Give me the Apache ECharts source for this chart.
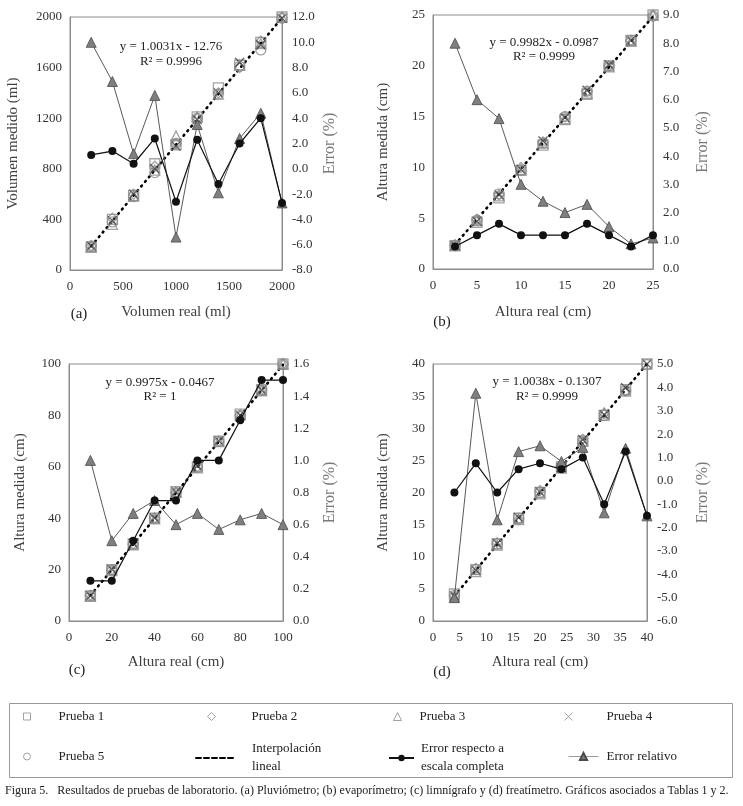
<!DOCTYPE html>
<html>
<head>
<meta charset="utf-8">
<script src="https://cdn.jsdelivr.net/npm/echarts@6/dist/echarts.min.js"></script>
<style>
html,body{margin:0;padding:0;background:#fff;}
#chart{width:743px;height:806px;}
</style>
</head>
<body>
<div id="chart"></div>
<script>
// ---------- DATA ----------
// (a) Pluviómetro
const aX = [200, 400, 600, 800, 1000, 1200, 1400, 1600, 1800, 2000];
const aP1 = [180, 400, 590, 840, 990, 1210, 1440, 1620, 1800, 2000];
const aP2 = [190, 410, 600, 820, 1000, 1200, 1400, 1600, 1810, 2010];
const aP3 = [185, 360, 585, 790, 1060, 1210, 1390, 1620, 1790, 2000];
const aP4 = [190, 390, 600, 800, 980, 1190, 1400, 1640, 1780, 1990];
const aP5 = [190, 380, 580, 770, 1000, 1200, 1390, 1610, 1740, 1990];
const aErrFS = [1.1, 1.4, 0.4, 2.4, -2.6, 2.3, -1.2, 2.0, 4.0, -2.7];
const aErrRel = [10.0, 6.9, 1.2, 5.8, -5.4, 3.5, -1.9, 2.4, 4.4, -2.7];
const aFitX = [200, 2000];
const aFitY = [188, 1993];
const aEq = ["y = 1.0031x - 12.76", "R² = 0.9996"];

// (b) Evaporímetro
const bX = [2.5, 5, 7.5, 10, 12.5, 15, 17.5, 20, 22.5, 25];
const bP1 = [2.3, 4.6, 7.0, 9.7, 12.2, 14.7, 17.2, 20.0, 22.5, 25.0];
const bP2 = [2.4, 4.9, 7.3, 10.0, 12.5, 15.0, 17.5, 20.0, 22.5, 24.9];
const bP3 = [2.3, 4.8, 7.2, 9.8, 12.4, 14.8, 17.3, 19.9, 22.4, 25.0];
const bP4 = [2.3, 4.7, 7.3, 9.8, 12.6, 14.9, 17.6, 20.1, 22.5, 25.1];
const bP5 = [2.3, 4.8, 7.4, 9.7, 12.4, 15.0, 17.5, 20.0, 22.5, 24.9];
const bErrFS = [0.8, 1.2, 1.6, 1.2, 1.2, 1.2, 1.6, 1.2, 0.8, 1.2];
const bErrRel = [8.0, 6.0, 5.33, 3.0, 2.4, 2.0, 2.29, 1.5, 0.89, 1.1];
const bFitX = [2.5, 25];
const bFitY = [2.4, 24.86];
const bEq = ["y = 0.9982x - 0.0987", "R² = 0.9999"];

// (c) Limnígrafo
const cX = [10, 20, 30, 40, 50, 60, 70, 80, 90, 100];
const cP1 = [9.8, 20.0, 30.0, 40.0, 50.3, 60.0, 70.0, 80.5, 90.0, 100.0];
const cP2 = [10, 20, 30, 40, 50, 60, 70, 80, 90, 100];
const cP3 = [9.6, 19.6, 29.6, 39.7, 50.1, 59.6, 69.8, 80.2, 89.6, 99.9];
const cP4 = [9.8, 20.1, 30.2, 40.1, 50.2, 60.3, 70.1, 80.1, 89.9, 100.2];
const cP5 = [9.9, 19.9, 29.8, 40.0, 49.9, 59.8, 69.9, 80.0, 89.8, 100.0];
const cErrFS = [0.25, 0.25, 0.5, 0.75, 0.75, 1.0, 1.0, 1.25, 1.5, 1.5];
const cErrRel = [1.0, 0.5, 0.67, 0.75, 0.6, 0.67, 0.57, 0.63, 0.67, 0.6];
const cFitX = [10, 100];
const cFitY = [9.93, 99.7];
const cEq = ["y = 0.9975x - 0.0467", "R² = 1"];

// (d) Freatímetro
const dX = [4, 8, 12, 16, 20, 24, 28, 32, 36, 40];
const dP1 = [4.2, 8.0, 12.0, 16.0, 20.0, 24.0, 28.0, 32.0, 36.0, 40.0];
const dP2 = [3.9, 8.2, 12.2, 15.8, 20.3, 24.1, 28.3, 32.3, 35.8, 40.1];
const dP3 = [3.8, 7.7, 11.8, 15.8, 19.8, 23.8, 28.0, 32.4, 35.8, 40.2];
const dP4 = [3.9, 7.9, 12.1, 16.1, 20.1, 23.9, 28.2, 32.1, 36.3, 40.0];
const dP5 = [4.0, 8.0, 12.0, 16.0, 20.0, 24.0, 27.8, 32.0, 35.9, 39.9];
const dErrFS = [-0.5, 0.75, -0.5, 0.5, 0.75, 0.5, 1.0, -1.0, 1.25, -1.5];
const dErrRel = [-5.0, 3.75, -1.67, 1.25, 1.5, 0.83, 1.43, -1.37, 1.39, -1.5];
const dFitX = [4, 40];
const dFitY = [3.88, 40.02];
const dEq = ["y = 1.0038x - 0.1307", "R² = 0.9999"];

const pruebaNames = ["Prueba 1", "Prueba 2", "Prueba 3", "Prueba 4", "Prueba 5"];
const fitName = "Interpolación lineal";
const fsName = "Error respecto a escala completa";
const relName = "Error relativo";
const caption = "Figura 5.   Resultados de pruebas de laboratorio. (a) Pluviómetro; (b) evaporímetro; (c) limnígrafo y (d) freatímetro. Gráficos asociados a Tablas 1 y 2.";

// ---------- LAYOUT / STYLE ----------
const FONT = "'Liberation Serif','Times New Roman',serif";
const AXIS_C = '#8c8c8c';
const TXT = '#333';

const panels = [
  {label:'(a)', x:aX, p:[aP1,aP2,aP3,aP4,aP5], fs:aErrFS, rel:aErrRel, fx:aFitX, fy:aFitY, eq:aEq,
   grid:{left:70, top:17, width:212, height:253}, xmax:2000, xint:500, ymax:2000, yint:400,
   rmin:-8, rmax:12, rint:2, xname:'Volumen real (ml)', yname:'Volumen medido (ml)',
   lgap:49, rgap:40, xgap:35, eqPos:[171,47,62], lblPos:[79,314]},
  {label:'(b)', x:bX, p:[bP1,bP2,bP3,bP4,bP5], fs:bErrFS, rel:bErrRel, fx:bFitX, fy:bFitY, eq:bEq,
   grid:{left:433, top:15, width:220, height:254}, xmax:25, xint:5, ymax:25, yint:5,
   rmin:0, rmax:9, rint:1, xname:'Altura real (cm)', yname:'Altura medida (cm)',
   lgap:42, rgap:42, xgap:36, eqPos:[544,43,57], lblPos:[442,322]},
  {label:'(c)', x:cX, p:[cP1,cP2,cP3,cP4,cP5], fs:cErrFS, rel:cErrRel, fx:cFitX, fy:cFitY, eq:cEq,
   grid:{left:69, top:364, width:214, height:257}, xmax:100, xint:20, ymax:100, yint:20,
   rmin:0, rmax:1.6, rint:0.2, xname:'Altura real (cm)', yname:'Altura medida (cm)',
   lgap:41, rgap:39, xgap:34, eqPos:[160,383,397], lblPos:[77,670]},
  {label:'(d)', x:dX, p:[dP1,dP2,dP3,dP4,dP5], fs:dErrFS, rel:dErrRel, fx:dFitX, fy:dFitY, eq:dEq,
   grid:{left:433, top:364, width:214, height:257}, xmax:40, xint:5, ymax:40, yint:5,
   rmin:-6, rmax:5, rint:1, xname:'Altura real (cm)', yname:'Altura medida (cm)',
   lgap:42, rgap:48, xgap:34, eqPos:[547,382,397], lblPos:[442,672]}
];

const pruebaSymbols = ['rect', 'diamond', 'triangle', 'path://M0,0L10,10M10,0L0,10', 'circle'];
const pruebaColors = ['#8c8c8c', '#8c8c8c', '#8c8c8c', '#3a3a3a', '#8c8c8c'];

function pairs(xs, ys) { return xs.map((x, i) => [x, ys[i]]); }

const grids = [], xAxes = [], yAxes = [], series = [], graphics = [];

panels.forEach((pn, k) => {
  grids.push(Object.assign({show:true, borderColor:AXIS_C, borderWidth:1, backgroundColor:'transparent'}, pn.grid));
  xAxes.push({
    type:'value', gridIndex:k, min:0, max:pn.xmax, interval:pn.xint,
    name:pn.xname, nameLocation:'middle', nameGap:pn.xgap,
    nameTextStyle:{fontFamily:FONT, fontSize:15, color:'#404040'},
    axisLine:{show:true, lineStyle:{color:AXIS_C}}, axisTick:{show:false}, splitLine:{show:false},
    axisLabel:{fontFamily:FONT, fontSize:13, color:TXT, margin:10, formatter:v => String(v)}
  });
  yAxes.push({
    type:'value', gridIndex:k, min:0, max:pn.ymax, interval:pn.yint, position:'left',
    name:pn.yname, nameLocation:'middle', nameGap:pn.lgap,
    nameTextStyle:{fontFamily:FONT, fontSize:15, color:'#404040'},
    axisLine:{show:true, lineStyle:{color:AXIS_C}}, axisTick:{show:false}, splitLine:{show:false},
    axisLabel:{fontFamily:FONT, fontSize:13, color:TXT, margin:8, formatter:v => String(v)}
  });
  yAxes.push({
    type:'value', gridIndex:k, min:pn.rmin, max:pn.rmax, interval:pn.rint, position:'right',
    name:'Error (%)', nameLocation:'middle', nameGap:pn.rgap, nameRotate:90,
    nameTextStyle:{fontFamily:FONT, fontSize:16, color:'#7a7a7a'},
    axisLine:{show:true, lineStyle:{color:AXIS_C}}, axisTick:{show:false}, splitLine:{show:false},
    axisLabel:{fontFamily:FONT, fontSize:13, color:TXT, margin:10, formatter:v => v.toFixed(1)}
  });
  const yl = 2*k, yr = 2*k+1;
  series.push({
    name:fitName, type:'line', xAxisIndex:k, yAxisIndex:yl, data:pairs(pn.fx, pn.fy),
    symbol:'none', z:2, silent:true,
    lineStyle:{color:'#000', width:2.6, type:[1,5], cap:'round'},
    itemStyle:{color:'#000'}
  });
  pn.p.forEach((arr, j) => {
    series.push({
      name:pruebaNames[j], type:'scatter', xAxisIndex:k, yAxisIndex:yl, data:pairs(pn.x, arr),
      symbol:pruebaSymbols[j], symbolSize:j === 3 ? 9 : 10, z:3, silent:true,
      itemStyle:{color:'rgba(255,255,255,0)', borderColor:pruebaColors[j], borderWidth:1.3}
    });
  });
  series.push({
    name:relName, type:'line', xAxisIndex:k, yAxisIndex:yr, data:pairs(pn.x, pn.rel),
    symbol:'triangle', symbolSize:10, z:4, silent:true,
    lineStyle:{color:'#5a5a5a', width:1},
    itemStyle:{color:'#7f7f7f', borderColor:'#4a4a4a', borderWidth:0.8}
  });
  series.push({
    name:fsName, type:'line', xAxisIndex:k, yAxisIndex:yr, data:pairs(pn.x, pn.fs),
    symbol:'circle', symbolSize:8, z:5, silent:true,
    lineStyle:{color:'#111', width:1.2},
    itemStyle:{color:'#111'}
  });
  graphics.push({type:'text', z:10, style:{text:pn.eq[0], x:pn.eqPos[0], y:pn.eqPos[1], align:'center', verticalAlign:'middle',
    fontFamily:FONT, fontSize:13, fill:'#222'}});
  graphics.push({type:'text', z:10, style:{text:pn.eq[1], x:pn.eqPos[0], y:pn.eqPos[2], align:'center', verticalAlign:'middle',
    fontFamily:FONT, fontSize:13, fill:'#222'}});
  graphics.push({type:'text', z:10, style:{text:pn.label, x:pn.lblPos[0], y:pn.lblPos[1], align:'center', verticalAlign:'middle',
    fontFamily:FONT, fontSize:15, fill:'#222'}});
});

// legend box & caption
graphics.push({type:'rect', z:1, shape:{x:9.5, y:703.5, width:723, height:74},
  style:{fill:'#fff', stroke:'#9a9a9a', lineWidth:1}});
graphics.push({type:'text', z:10, style:{text:caption, x:5, y:791, align:'left', verticalAlign:'middle',
  fontFamily:FONT, fontSize:12, fill:'#222'}});

const legTxt = {fontFamily:FONT, fontSize:13, color:'#222'};
function leg(name, left, top, w, h, pad, extra) {
  return Object.assign({
    data:[name], left:left, top:top, itemWidth:w, itemHeight:h, selectedMode:false, orient:'horizontal',
    padding:0, textStyle:Object.assign({}, legTxt, {padding:[0,0,0,pad]})
  }, extra || {});
}
const legends = [
  leg({name:'Prueba 1', itemStyle:{borderWidth:1}}, 23, 710, 7, 7, 23),
  leg({name:'Prueba 2', itemStyle:{borderWidth:1}}, 207, 710, 8, 8, 31),
  leg({name:'Prueba 3', itemStyle:{borderWidth:1}}, 393, 710, 8, 8, 13),
  leg({name:'Prueba 4', itemStyle:{borderWidth:1, borderColor:'#8c8c8c'}}, 564, 710, 8, 8, 29),
  leg({name:'Prueba 5', itemStyle:{borderWidth:1}}, 23, 750, 7, 7, 23),
  leg({name:fitName, lineStyle:{type:[5,3], width:2, color:'#000'}, itemStyle:{opacity:0}}, 195, 740, 37, 8, 14,
      {formatter:() => 'Interpolación\nlineal', textStyle:Object.assign({}, legTxt, {padding:[0,0,0,14], lineHeight:18})}),
  leg(fsName, 388, 740, 25, 8, 2,
      {formatter:() => 'Error respecto a\nescala completa', textStyle:Object.assign({}, legTxt, {padding:[0,0,0,2], lineHeight:18})}),
  leg({name:relName, lineStyle:{color:'#9a9a9a', width:1}}, 568, 750, 30, 9, 3)
];

const chart = echarts.init(document.getElementById('chart'), null, {renderer:'canvas'});
chart.setOption({
  animation:false,
  backgroundColor:'#fff',
  grid:grids, xAxis:xAxes, yAxis:yAxes, series:series,
  legend:legends,
  graphic:graphics
});
</script>
</body>
</html>
